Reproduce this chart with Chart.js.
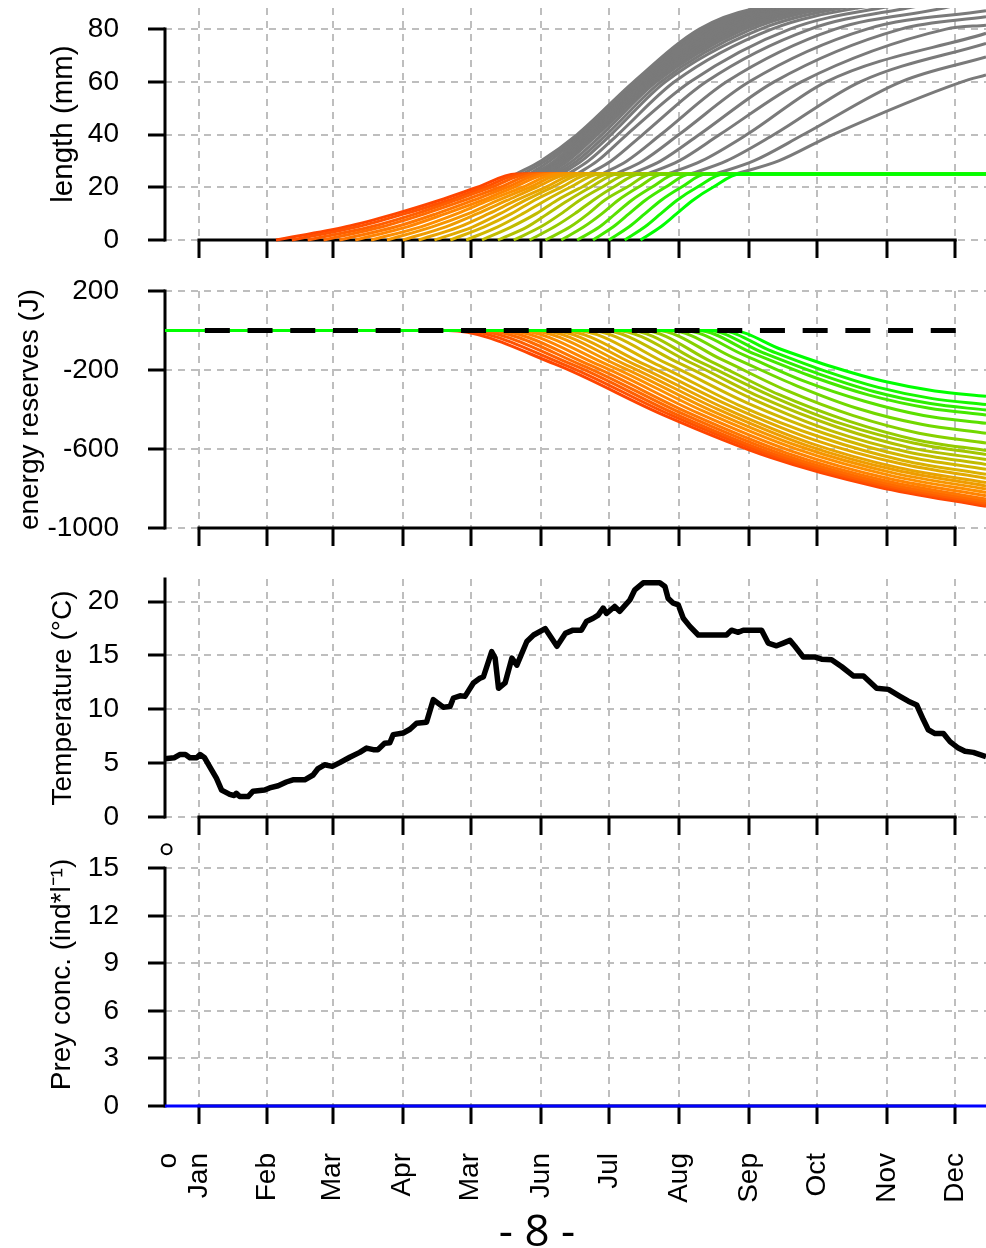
<!DOCTYPE html>
<html>
<head>
<meta charset="utf-8">
<script src="https://cdn.jsdelivr.net/npm/chart.js@4.4.0/dist/chart.umd.min.js"></script>
<style>
  html, body { margin: 0; padding: 0; background: #fff; }
  #page { position: relative; width: 986px; height: 1248px; overflow: hidden; }
  canvas { position: absolute; left: 0; }
  #pageNo { position: absolute; left: 437px; width: 200px; top: 1204px; text-align: center;
            font: 44px/50px 'Open Sans', 'Liberation Sans', sans-serif; color: #000; }
</style>
</head>
<body>
<div id="page">
  <canvas id="cLength" width="986" height="262" style="top:0px"></canvas>
  <canvas id="cEnergy" width="986" height="298" style="top:262px"></canvas>
  <canvas id="cTemp" width="986" height="280" style="top:560px"></canvas>
  <canvas id="cPrey" width="986" height="408" style="top:840px"></canvas>
  <div id="pageNo">- 8 -</div>
</div>
<script>
/* four stacked panels sharing a day-of-year x axis, R style axes */
Chart.defaults.font.family = "'Liberation Sans', Arial, sans-serif";
Chart.defaults.font.size = 28;
Chart.defaults.color = '#000';
Chart.defaults.animation = false;

const X_MAX = 362.6;
const MONTH_DAYS = [15, 45, 74, 105, 135, 166, 196, 227, 258, 288, 319, 349];
const MONTH_LABELS = ['Jan', 'Feb', 'Mar', 'Apr', 'Mar', 'Jun', 'Jul', 'Aug', 'Sep', 'Oct', 'Nov', 'Dec'];
const FIRST_LABEL_DAY = 1.3;
const FIRST_LABEL = 'o';

// ---- panel 1: length (mm), one coloured larval curve + one grey curve per cohort
const LARVA_LEVELS = [0, 5, 10, 15, 20, 25];
const LARVA_DAY = [
  [49, 80, 102, 121, 138, 155], [56, 85, 106, 125, 141, 158], [63, 91, 111, 128, 144, 161],
  [70, 96, 115, 132, 148, 164], [77, 102, 120, 136, 151, 167], [84, 107, 124, 140, 154, 170],
  [91, 113, 129, 143, 158, 173], [98, 118, 134, 147, 161, 176], [105, 124, 138, 151, 164, 179],
  [112, 130, 143, 155, 168, 182], [119, 136, 148, 159, 171, 185], [126, 141, 153, 163, 175, 188],
  [133, 147, 158, 168, 179, 192], [140, 153, 164, 173, 184, 196], [147, 160, 169, 178, 188, 200],
  [154, 166, 175, 183, 193, 205], [161, 172, 181, 189, 198, 210], [168, 179, 187, 194, 204, 215],
  [175, 185, 193, 200, 209, 220], [182, 192, 199, 206, 215, 226], [189, 198, 205, 212, 221, 232],
  [196, 205, 212, 219, 228, 239], [203, 212, 219, 226, 235, 247], [210, 219, 226, 233, 242, 254]
];
const LARVA_MAX = 25;

const GRAY_LEVELS = [25, 30, 40, 60, 80, 88];
const GRAY_DAY = [
  [155, 166, 182, 207, 236, 262], [158, 168, 183, 208, 238, 264], [161, 170, 184, 209, 240, 266],
  [163, 172, 185, 210, 242, 268], [164, 173, 186, 211, 244, 270], [165, 174, 187, 212, 246, 272],
  [166, 175, 188, 213, 248, 275], [167, 176, 189, 214, 250, 278], [168, 177, 190, 215, 252, 281],
  [169, 178, 191, 216, 254, 284], [171, 180, 193, 217, 256, 288], [173, 182, 195, 219, 259, 293],
  [175, 184, 197, 221, 263, 299], [178, 187, 200, 225, 268, 306], [182, 191, 204, 232, 276, 316],
  [187, 197, 211, 239, 285, 328], [193, 204, 219, 248, 296, 344], [199, 211, 227, 258, 310, null],
  [206, 219, 236, 269, 325, null], [213, 227, 245, 281, 345, null], [222, 237, 257, 292, null, null],
  [232, 248, 269, 307, null, null], [243, 260, 282, 325, null, null], [252, 271, 295, 352, null, null]
];
const GRAY_END = [93, 93, 93, 93, 93, 93, 93, 93, 93, 93, 93, 93, 93, 93, 93, 93, 92,
                  87, 84.7, 81.5, 78.4, 74.6, 69.4, 62.6];

// ---- panel 2: energy reserves (J)
const ENERGY_DAY = [
  [125, 172, 220, 267, 315, 362.6], [130, 176, 223, 269, 316, 362.6], [135, 180, 226, 271, 317, 362.6],
  [140, 184, 229, 273, 318, 362.6], [145, 188, 232, 275, 319, 362.6], [150, 192, 235, 277, 320, 362.6],
  [155, 196, 238, 279, 321, 362.6], [160, 200, 241, 281, 322, 362.6], [165, 204, 244, 283, 323, 362.6],
  [170, 208, 247, 285, 324, 362.6], [175, 212, 250, 287, 325, 362.6], [181, 217, 253, 290, 326, 362.6],
  [187, 222, 257, 292, 327, 362.6], [193, 227, 261, 294, 328, 362.6], [199, 232, 264, 297, 329, 362.6],
  [205, 236, 268, 299, 331, 362.6], [211, 241, 271, 302, 332, 362.6], [217, 246, 275, 304, 333, 362.6],
  [223, 251, 279, 306, 334, 362.6], [229, 256, 282, 309, 335, 362.6], [235, 260, 286, 311, 337, 362.6],
  [240, 264, 289, 313, 338, 362.6], [245, 268, 292, 315, 339, 362.6], [250, 272, 295, 317, 340, 362.6]
];
const ENERGY_J = [
  [0, -169, -427, -641, -792, -890], [0, -171, -426, -637, -786, -882], [0, -173, -426, -634, -781, -875],
  [0, -175, -424, -629, -773, -865], [0, -177, -421, -622, -763, -853], [0, -177, -416, -612, -751, -837],
  [0, -176, -410, -601, -736, -820], [0, -176, -404, -590, -722, -803], [0, -176, -398, -580, -708, -787],
  [0, -175, -393, -570, -695, -770], [0, -173, -384, -555, -675, -748], [0, -171, -376, -542, -658, -728],
  [0, -169, -366, -524, -637, -703], [0, -165, -355, -507, -615, -678], [0, -162, -343, -490, -593, -653],
  [0, -158, -333, -473, -571, -628], [0, -156, -324, -459, -554, -608], [0, -148, -306, -431, -520, -570],
  [0, -137, -280, -395, -475, -520], [0, -126, -255, -358, -430, -470], [0, -117, -234, -327, -392, -428],
  [0, -112, -221, -309, -370, -403], [0, -105, -207, -288, -345, -375], [0, -95, -185, -256, -306, -333]
];
const ZERO_LINE_DAY = [17.6, 349.4];
const ZERO_LINE_J = [0, 0];

// ---- panel 3: temperature (°C)
const TEMP_DAY = [
  0, 4, 6.5, 9, 11, 14, 15.5, 17.5, 20.5, 22.7,
  25, 28.6, 30.5, 31.5, 33, 36.7, 38.9, 44, 46.2, 50,
  53.6, 56.5, 61.7, 65.4, 67.6, 70.5, 73.9, 77.2, 81.6, 86,
  89, 92, 94, 97, 99.3, 100.8, 105.2, 108.2, 111.1, 115.5,
  118.5, 122.9, 125.9, 127.4, 130.3, 132.5, 136.2, 139.2, 140.6, 144.3,
  145.8, 147.3, 150.2, 153.2, 155.4, 159.8, 162.8, 167.9, 173.1, 176.8,
  180.2, 183.9, 186.1, 189.1, 191.3, 193.5, 195, 198.6, 200.8, 205.3,
  207.5, 211.2, 218.5, 220.8, 222.2, 224.5, 226.7, 228.9, 231.8, 235.5,
  248, 250.2, 253.2, 255.4, 263.5, 266.4, 270.1, 273.1, 276, 278.2,
  281.9, 287.1, 290, 294.4, 298.9, 304, 308.5, 314.3, 319.5, 324.6,
  328.3, 332, 334.9, 337.1, 340.1, 343.8, 346.7, 350.4, 353.3, 357,
  362.6
];
const TEMP_C = [
  5.4, 5.5, 5.8, 5.8, 5.5, 5.5, 5.8, 5.5, 4.4, 3.6,
  2.5, 2.1, 2.0, 2.2, 1.9, 1.9, 2.4, 2.5, 2.7, 2.9,
  3.25, 3.45, 3.45, 3.9, 4.5, 4.85, 4.7, 5.05, 5.55, 6.0,
  6.4, 6.25, 6.25, 6.85, 6.9, 7.65, 7.8, 8.15, 8.7, 8.8,
  10.9, 10.2, 10.25, 11.05, 11.25, 11.2, 12.45, 12.9, 13.0, 15.35,
  14.75, 11.95, 12.45, 14.75, 14.1, 16.3, 16.9, 17.5, 15.85, 17.05,
  17.35, 17.35, 18.15, 18.45, 18.75, 19.4, 18.9, 19.55, 19.1, 20.15,
  21.1, 21.75, 21.75, 21.4, 20.3, 19.85, 19.7, 18.45, 17.7, 16.9,
  16.9, 17.35, 17.15, 17.35, 17.35, 16.15, 15.9, 16.15, 16.4, 15.85,
  14.85, 14.85, 14.65, 14.6, 13.95, 13.1, 13.1, 11.95, 11.85, 11.2,
  10.75, 10.4, 9.05, 8.1, 7.75, 7.75, 7.0, 6.4, 6.1, 6.0,
  5.6
];

// ---- panel 4: prey concentration
const PREY_DAY = [0, 362.6];
const PREY_CONC = [0, 0];
const PREY_MARK_DAY = [0.7];
const PREY_MARK_CONC = [16.2];

const GRID = '#bebebe';
const GRAY_LINE = '#7a7a7a';
const RAMP = [[255, 69, 0], [255, 140, 0], [215, 180, 0], [130, 210, 0], [0, 255, 0]];

function rampColor(t) {
  const p = t * (RAMP.length - 1);
  const i = Math.min(Math.floor(p), RAMP.length - 2);
  const f = p - i, a = RAMP[i], b = RAMP[i + 1];
  return `rgb(${a.map((c, j) => Math.round(c + (b[j] - c) * f)).join(',')})`;
}
const cohortColor = k => rampColor(k / (LARVA_DAY.length - 1));
const zip = (xs, ys) => xs.map((x, i) => ({ x, y: ys[i] }));

// R-like axis lines: y from first to last tick, x from Jan to Dec tick (under the data)
const rAxes = {
  id: 'rAxes',
  beforeDatasetsDraw(chart, args, opts) {
    const { ctx, chartArea, scales: { x, y } } = chart;
    ctx.save();
    ctx.strokeStyle = '#000';
    ctx.lineWidth = 3;
    ctx.beginPath();
    ctx.moveTo(chartArea.left, y.getPixelForValue(opts.yFrom) + 1.5);
    ctx.lineTo(chartArea.left, y.getPixelForValue(opts.yTo) - 1.5);
    ctx.moveTo(x.getPixelForValue(MONTH_DAYS[0]) - 1.5, chartArea.bottom);
    ctx.lineTo(x.getPixelForValue(MONTH_DAYS[MONTH_DAYS.length - 1]) + 1.5, chartArea.bottom);
    ctx.stroke();
    ctx.restore();
  }
};

function makePanel(id, cfg) {
  const xTicks = cfg.xLabels ? [FIRST_LABEL_DAY, ...MONTH_DAYS] : MONTH_DAYS;
  const xLabels = cfg.xLabels ? [FIRST_LABEL, ...MONTH_LABELS] : MONTH_LABELS;
  const hideFirst = c => cfg.xLabels && c.index === 0;
  return new Chart(document.getElementById(id), {
    type: 'line',
    data: { datasets: cfg.datasets },
    plugins: [rAxes],
    options: {
      responsive: false,
      events: [],
      layout: { autoPadding: false, padding: { top: cfg.padTop, right: 0, left: 0, bottom: 0 } },
      elements: { point: { radius: 0 } },
      plugins: {
        legend: { display: false },
        tooltip: { enabled: false },
        rAxes: { yFrom: cfg.yTicks[0], yTo: cfg.axisTop ?? cfg.yTicks[cfg.yTicks.length - 1] },
      },
      scales: {
        x: {
          type: 'linear', min: 0, max: X_MAX,
          afterBuildTicks: s => { s.ticks = xTicks.map(v => ({ value: v })); },
          afterFit: s => { s.height = cfg.xHeight; s.paddingLeft = 0; s.paddingRight = 0; },
          ticks: { display: !!cfg.xLabels, autoSkip: false, minRotation: 90, maxRotation: 90,
                   padding: 29, callback: (v, i) => xLabels[i] },
          grid: { color: c => hideFirst(c) ? 'rgba(0,0,0,0)' : GRID, lineWidth: 2,
                  tickLength: 18, tickWidth: 3, tickColor: c => hideFirst(c) ? 'rgba(0,0,0,0)' : '#000' },
          border: { display: false, dash: [7, 6] },
        },
        y: {
          type: 'linear', min: cfg.yMin, max: cfg.yMax,
          afterBuildTicks: s => { s.ticks = cfg.yTicks.map(v => ({ value: v })); },
          afterFit: s => { s.width = 165; s.paddingTop = 0; s.paddingBottom = 0; },
          ticks: { callback: v => String(v), padding: 29 },
          grid: { color: GRID, lineWidth: 2, tickLength: 17, tickWidth: 3, tickColor: '#000' },
          border: { display: false, dash: [7, 6] },
          title: { display: true, text: cfg.yTitle, font: { size: cfg.titleSize || 28 },
                   padding: { top: cfg.titlePad, bottom: 0 } },
        },
      },
    },
  });
}

// panel 1 datasets
const lengthSets = [];
GRAY_DAY.forEach((days, k) => {
  const pts = [];
  days.forEach((d, j) => { if (d !== null) pts.push({ x: d, y: GRAY_LEVELS[j] }); });
  pts.push({ x: X_MAX, y: GRAY_END[k] });
  lengthSets.push({ data: pts, borderColor: GRAY_LINE, borderWidth: 3, cubicInterpolationMode: 'monotone', order: 100 });
});
LARVA_DAY.forEach((days, k) => {
  const pts = zip(days, LARVA_LEVELS);
  pts.push({ x: X_MAX, y: LARVA_MAX });
  lengthSets.push({ data: pts, borderColor: cohortColor(k), borderWidth: 3, cubicInterpolationMode: 'monotone',
                    order: -k, clip: 3 });
});

// panel 2 datasets
const energySets = ENERGY_DAY.map((days, k) => ({
  data: [{ x: 0, y: 0 }, ...zip(days, ENERGY_J[k])],
  borderColor: cohortColor(k), borderWidth: 3, cubicInterpolationMode: 'monotone', order: -k, clip: 3,
}));
energySets.push({ data: zip(ZERO_LINE_DAY, ZERO_LINE_J), borderColor: '#000', borderWidth: 5,
                  borderDash: [25, 17.7], order: -100 });

makePanel('cLength', {
  padTop: 8, xHeight: 22, yMin: 0, yMax: 88, yTicks: [0, 20, 40, 60, 80],
  yTitle: 'length (mm)', titleSize: 29.5, titlePad: 46, datasets: lengthSets,
});
makePanel('cEnergy', {
  padTop: 29, xHeight: 32, yMin: -1000, yMax: 200, yTicks: [-1000, -600, -200, 200],
  yTitle: 'energy reserves (J)', titlePad: 13, datasets: energySets,
});
makePanel('cTemp', {
  padTop: 19, xHeight: 23, yMin: 0, yMax: 22.1, yTicks: [0, 5, 10, 15, 20], axisTop: 22.1,
  yTitle: 'Temperature (°C)', titlePad: 46,
  datasets: [{ data: zip(TEMP_DAY, TEMP_C), borderColor: '#000', borderWidth: 5.5, borderJoinStyle: 'round', clip: 4 }],
});
makePanel('cPrey', {
  padTop: 3, xHeight: 142, yMin: 0, yMax: 16.6, yTicks: [0, 3, 6, 9, 12, 15], xLabels: true,
  yTitle: 'Prey conc. (ind*l\u207B\u00B9)', titlePad: 45,
  datasets: [
    { data: zip(PREY_DAY, PREY_CONC), borderColor: '#0000ff', borderWidth: 3, clip: 3 },
    { data: zip(PREY_MARK_DAY, PREY_MARK_CONC), showLine: false, pointRadius: 5, pointBorderWidth: 2,
      pointBorderColor: '#000', pointBackgroundColor: '#fff', clip: false },
  ],
});
</script>
</body>
</html>
